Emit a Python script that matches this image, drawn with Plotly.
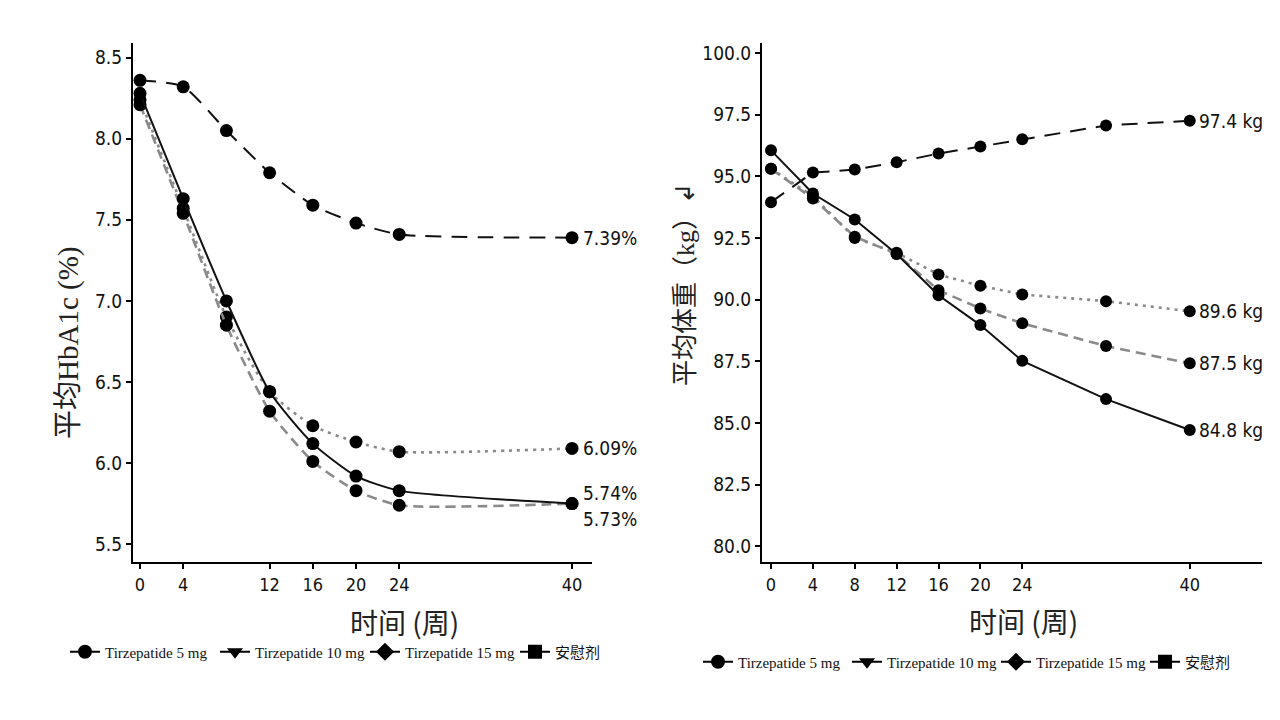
import plotly.graph_objects as go

# ---------------- data ----------------
weeks_a = [0, 4, 8, 12, 16, 20, 24, 40]
hba1c_5mg = [8.24, 7.57, 6.90, 6.44, 6.23, 6.13, 6.07, 6.09]
hba1c_10mg = [8.21, 7.54, 6.85, 6.32, 6.01, 5.83, 5.74, 5.75]
hba1c_15mg = [8.28, 7.63, 7.00, 6.44, 6.12, 5.92, 5.83, 5.75]
hba1c_placebo = [8.36, 8.32, 8.05, 7.79, 7.59, 7.48, 7.41, 7.39]
hba1c_labels = ["6.09%", "5.73%", "5.74%", "7.39%"]

weeks_b = [0, 4, 8, 12, 16, 20, 24, 32, 40]
wt_5mg = [95.3, 94.2, 92.5, 91.9, 91.02, 90.56, 90.21, 89.94, 89.53]
wt_10mg = [95.3, 94.1, 92.55, 91.85, 90.38, 89.64, 89.04, 88.12, 87.42]
wt_15mg = [96.05, 94.3, 93.25, 91.85, 90.18, 88.97, 87.52, 85.97, 84.72]
wt_placebo = [93.95, 95.15, 95.27, 95.57, 95.92, 96.21, 96.5, 97.06, 97.25]
wt_labels = ["89.6 kg", "87.5 kg", "84.8 kg", "97.4 kg"]

series_names = ["Tirzepatide 5 mg", "Tirzepatide 10 mg", "Tirzepatide 15 mg", "安慰剂"]
legend_symbols = ["circle", "triangle-down", "diamond", "square"]

x_ticks_a = [0, 4, 12, 16, 20, 24, 40]
x_ticks_b = [0, 4, 8, 12, 16, 20, 24, 40]
y_ticks_a = [5.5, 6.0, 6.5, 7.0, 7.5, 8.0, 8.5]
y_ticks_b = [80.0, 82.5, 85.0, 87.5, 90.0, 92.5, 95.0, 97.5, 100.0]

# ---------------- styles ----------------
styles = [
    dict(color="#8a8a8a", width=2.6, dash="3px,5px"),
    dict(color="#8a8a8a", width=2.6, dash="10px,6px"),
    dict(color="#111111", width=2.0, dash="solid"),
    dict(color="#111111", width=2.0, dash="16px,10px"),
]
NARROW = "Liberation Sans Narrow, DejaVu Sans Condensed, Arial Narrow, sans-serif"
SERIF = "Liberation Serif, Times New Roman, Noto Sans CJK SC, serif"
CJK = "Noto Sans CJK SC, sans-serif"

fig = go.Figure()

left_series = [hba1c_5mg, hba1c_10mg, hba1c_15mg, hba1c_placebo]
right_series = [wt_5mg, wt_10mg, wt_15mg, wt_placebo]

for ys, st in zip(left_series, styles):
    fig.add_trace(go.Scatter(
        x=weeks_a, y=ys, mode="lines+markers", xaxis="x", yaxis="y",
        line=dict(color=st["color"], width=st["width"], dash=st["dash"],
                  shape="spline", smoothing=0.6),
        marker=dict(color="#000000", size=13), showlegend=False, hoverinfo="skip"))

for ys, st in zip(right_series, styles):
    fig.add_trace(go.Scatter(
        x=weeks_b, y=ys, mode="lines+markers", xaxis="x2", yaxis="y2",
        line=dict(color=st["color"], width=st["width"], dash=st["dash"]),
        marker=dict(color="#000000", size=12), showlegend=False, hoverinfo="skip"))

# legend-only entries
for lg in ["legend", "legend2"]:
    for name, sym in zip(series_names, legend_symbols):
        fig.add_trace(go.Scatter(
            x=[None], y=[None], mode="lines+markers", name=name,
            xaxis="x" if lg == "legend" else "x2",
            yaxis="y" if lg == "legend" else "y2",
            line=dict(color="#000000", width=2),
            marker=dict(color="#000000", size=14, symbol=sym),
            legend=lg, showlegend=True))

# end labels
ann = []
shifts_a = [0, -15, 11, 0]
for ys, lab, sh in zip(left_series, hba1c_labels, shifts_a):
    ann.append(dict(x=weeks_a[-1], y=ys[-1], xref="x", yref="y", text=lab,
                    showarrow=False, xanchor="left", yanchor="middle",
                    xshift=9, yshift=sh, font=dict(family=NARROW, size=19, color="#111")))
for ys, lab in zip(right_series, wt_labels):
    ann.append(dict(x=weeks_b[-1], y=ys[-1], xref="x2", yref="y2", text=lab,
                    showarrow=False, xanchor="left", yanchor="middle",
                    xshift=7, font=dict(family=NARROW, size=19, color="#111")))

# axis titles
ann += [
    dict(x=68 / 1280, y=1 - 343 / 720, xref="paper", yref="paper", text="平均HbA1c (%)",
         showarrow=False, textangle=-90, xanchor="center", yanchor="middle",
         font=dict(family=SERIF, size=29, color="#222")),
    dict(x=686 / 1280, y=1 - 284 / 720, xref="paper", yref="paper", text="平均体重（kg）↲",
         showarrow=False, textangle=-90, xanchor="center", yanchor="middle",
         font=dict(family=SERIF, size=26, color="#222")),
    dict(x=404 / 1280, y=1 - 622 / 720, xref="paper", yref="paper", text="时间 (周)",
         showarrow=False, xanchor="center", yanchor="middle",
         font=dict(family=CJK, size=28, color="#222")),
    dict(x=1023 / 1280, y=1 - 621 / 720, xref="paper", yref="paper", text="时间 (周)",
         showarrow=False, xanchor="center", yanchor="middle",
         font=dict(family=CJK, size=28, color="#222")),
]

axis_common = dict(showgrid=False, zeroline=False, showline=True, linecolor="#000",
                   linewidth=2, ticks="outside", ticklen=5, tickwidth=1.5, tickcolor="#000",
                   mirror=False, automargin=False)

y_dom = [1 - 562 / 720, 1 - 43 / 720]

fig.update_layout(
    width=1280, height=720, autosize=False,
    margin=dict(l=0, r=0, t=0, b=0, autoexpand=False),
    paper_bgcolor="#ffffff", plot_bgcolor="#ffffff",
    xaxis=dict(domain=[133 / 1280, 592 / 1280], range=[-0.65, 41.85],
               tickvals=x_ticks_a, ticktext=[str(v) for v in x_ticks_a],
               tickfont=dict(family=NARROW, size=18, color="#111"), anchor="y", **axis_common),
    yaxis=dict(domain=y_dom, range=[5.39, 8.59], tickvals=y_ticks_a, tickformat=".1f",
               tickfont=dict(family=NARROW, size=19, color="#111"), anchor="x", **axis_common),
    xaxis2=dict(domain=[762 / 1280, 1262 / 1280], range=[-0.86, 46.9],
                tickvals=x_ticks_b, ticktext=[str(v) for v in x_ticks_b],
                tickfont=dict(family=NARROW, size=18, color="#111"), anchor="y2", **axis_common),
    yaxis2=dict(domain=y_dom, range=[79.37, 100.4], tickvals=y_ticks_b, tickformat=".1f",
                tickfont=dict(family=NARROW, size=19, color="#111"), anchor="x2", **axis_common),
    legend=dict(orientation="h", x=65 / 1280, y=1 - 652 / 720, xanchor="left", yanchor="middle",
                font=dict(family=SERIF, size=15, color="#111"), bgcolor="rgba(0,0,0,0)",
                entrywidth=105, entrywidthmode="pixels", itemclick=False),
    legend2=dict(orientation="h", x=698 / 1280, y=1 - 662 / 720, xanchor="left", yanchor="middle",
                 font=dict(family=SERIF, size=15, color="#111"), bgcolor="rgba(0,0,0,0)",
                 entrywidth=104, entrywidthmode="pixels", itemclick=False),
    annotations=ann,
    showlegend=True,
)

fig.write_html("out.html")
